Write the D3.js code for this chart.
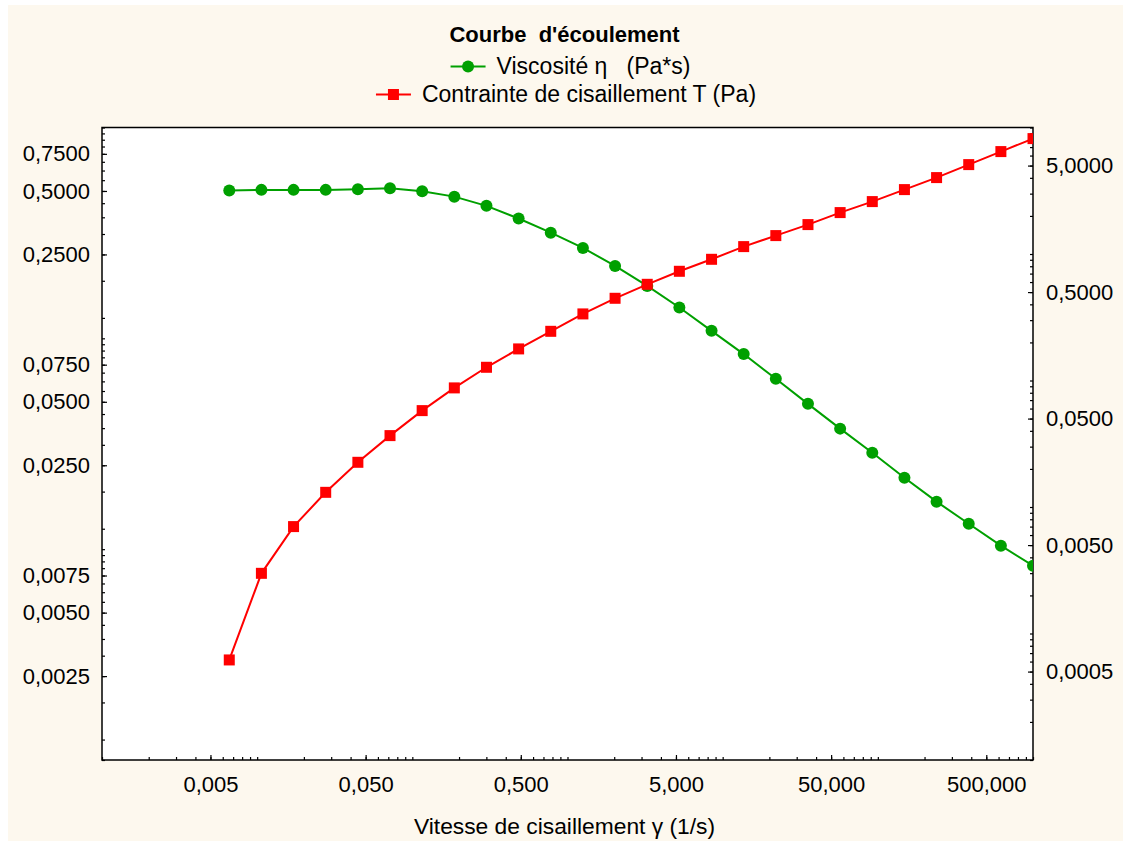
<!DOCTYPE html>
<html>
<head>
<meta charset="utf-8">
<script src="https://cdn.jsdelivr.net/npm/d3@7"></script>
<style>
  body { margin: 0; background: #ffffff; }
  text { font-family: "Liberation Sans", Arial, sans-serif; fill: #000; }
</style>
</head>
<body>
<div id="chart"></div>
<script>
// Vitesse de cisaillement (1/s)
const vitesse = [0.00661, 0.01065, 0.01716, 0.02765, 0.04457, 0.0718, 0.1157, 0.1865, 0.3005, 0.4842,
    0.780, 1.257, 2.026, 3.265, 5.26, 8.48, 13.66, 22.01, 35.46, 57.15,
    92.1, 148.4, 239.1, 385.3, 620.9, 1000];
// Viscosité (Pa*s) - axe gauche
const viscosite = [0.502, 0.506, 0.506, 0.506, 0.510, 0.515, 0.498, 0.470, 0.425, 0.370,
    0.317, 0.2685, 0.2206, 0.1773, 0.140, 0.1085, 0.0842, 0.0643, 0.0489, 0.0373,
    0.02867, 0.02182, 0.0168, 0.0132, 0.01039, 0.00835];
// Contrainte de cisaillement (Pa) - axe droit
const contrainte = [0.000618, 0.00299, 0.0070, 0.01306, 0.02256, 0.03667, 0.0578, 0.0874, 0.1272, 0.1777,
    0.2448, 0.336, 0.4466, 0.576, 0.730, 0.908, 1.144, 1.398, 1.708, 2.125,
    2.596, 3.229, 4.018, 5.09, 6.45, 8.17];

// Étiquettes des axes
const xLabels = [0.005, 0.05, 0.5, 5, 50, 500];
const leftLabels = [0.0025, 0.005, 0.0075, 0.025, 0.05, 0.075, 0.25, 0.5, 0.75];
const rightLabels = [0.0005, 0.005, 0.05, 0.5, 5];
// graduations secondaires de l'axe gauche (fractions de chaque décade)
const leftMinorSteps = [0.1, 0.125, 0.1875, 0.25, 0.3125, 0.375, 0.4375, 0.5, 0.5625, 0.625, 0.6875, 0.75, 0.8125, 0.875, 0.9375];

const W = 1123, H = 841;
const mLeft = 102, mRight = 1033, mTop = 127.5, mBottom = 760;
const vert = "#00a000", rouge = "#ff0000";

const svg = d3.select("#chart").append("svg")
    .attr("width", W).attr("height", H);

// fond crème
svg.append("rect").attr("x", 8).attr("y", 5).attr("width", W - 8).attr("height", H - 5).attr("fill", "#fdf8ee");
svg.append("rect").attr("x", mLeft).attr("y", mTop).attr("width", mRight - mLeft).attr("height", mBottom - mTop).attr("fill", "#fff");

const x = d3.scaleLog().domain([0.001, 1000]).range([mLeft, mRight]);
const yL = d3.scaleLog().domain([0.001, 1]).range([mBottom, mTop]);
const yR = d3.scaleLog().domain([0.0001, 10]).range([mBottom, mTop]);

const fr = d => d3.format(".4f")(d).replace(".", ",");
const fr3 = d => d3.format(".3f")(d).replace(".", ",");

// graduations gauche
const leftMinor = [1];
[0.01, 0.1, 1].forEach(dec => leftMinorSteps.forEach(s => leftMinor.push(+(s * dec).toPrecision(6))));

function styleAxis(g) {
    g.select(".domain").remove();
    g.selectAll("line").attr("stroke", "#000").attr("stroke-width", 1.2);
    g.selectAll("text").attr("font-size", 22).attr("font-family", '"Liberation Sans", Arial, sans-serif');
}

svg.append("g").attr("transform", `translate(${mLeft},0)`)
    .call(d3.axisLeft(yL).tickValues(leftMinor).tickSize(-3).tickFormat(""))
    .call(styleAxis);
svg.append("g").attr("transform", `translate(${mLeft},0)`)
    .call(d3.axisLeft(yL).tickValues(leftLabels).tickSize(-5).tickPadding(12).tickFormat(fr))
    .call(styleAxis);

// graduations droite
svg.append("g").attr("transform", `translate(${mRight},0)`)
    .call(d3.axisRight(yR).tickValues(yR.ticks()).tickSize(-3).tickFormat(""))
    .call(styleAxis);
svg.append("g").attr("transform", `translate(${mRight},0)`)
    .call(d3.axisRight(yR).tickValues(rightLabels).tickSize(-5).tickPadding(13).tickFormat(fr))
    .call(styleAxis);

// graduations bas
svg.append("g").attr("transform", `translate(0,${mBottom})`)
    .call(d3.axisBottom(x).tickValues(x.ticks()).tickSize(-3).tickFormat(""))
    .call(styleAxis);
svg.append("g").attr("transform", `translate(0,${mBottom})`)
    .call(d3.axisBottom(x).tickValues(xLabels).tickSize(-5).tickPadding(16).tickFormat(fr3))
    .call(styleAxis);

// cadre
svg.append("rect").attr("x", mLeft).attr("y", mTop).attr("width", mRight - mLeft).attr("height", mBottom - mTop)
    .attr("fill", "none").attr("stroke", "#000").attr("stroke-width", 1.5);

// zone de tracé
svg.append("clipPath").attr("id", "clip").append("rect")
    .attr("x", mLeft).attr("y", mTop).attr("width", mRight - mLeft).attr("height", mBottom - mTop);
const plot = svg.append("g").attr("clip-path", "url(#clip)");

const ptsV = vitesse.map((v, i) => [v, viscosite[i]]);
const ptsC = vitesse.map((v, i) => [v, contrainte[i]]);

plot.append("path").datum(ptsV)
    .attr("fill", "none").attr("stroke", vert).attr("stroke-width", 2)
    .attr("d", d3.line().x(d => x(d[0])).y(d => yL(d[1])));
plot.selectAll("circle.v").data(ptsV).join("circle")
    .attr("cx", d => x(d[0])).attr("cy", d => yL(d[1])).attr("r", 6).attr("fill", vert);

plot.append("path").datum(ptsC)
    .attr("fill", "none").attr("stroke", rouge).attr("stroke-width", 2)
    .attr("d", d3.line().x(d => x(d[0])).y(d => yR(d[1])));
plot.selectAll("rect.c").data(ptsC).join("rect")
    .attr("x", d => x(d[0]) - 5.5).attr("y", d => yR(d[1]) - 5.5)
    .attr("width", 11).attr("height", 11).attr("fill", rouge);

// titre
const cx = (mLeft + mRight) / 2 - 3;
svg.append("text").attr("x", cx).attr("y", 42).attr("text-anchor", "middle")
    .attr("font-size", 22).attr("font-weight", "bold").style("white-space", "pre")
    .text("Courbe  d'écoulement");

// légende
function legendItem(yy, label, color, kind, shift) {
    const g = svg.append("g");
    const t = g.append("text").attr("y", yy + 7.5).attr("font-size", 23).style("white-space", "pre").text(label);
    const tw = t.node().getComputedTextLength();
    const total = 46 + tw;
    const x0 = cx + shift - total / 2;
    t.attr("x", x0 + 46);
    g.append("line").attr("x1", x0).attr("x2", x0 + 35).attr("y1", yy).attr("y2", yy)
        .attr("stroke", color).attr("stroke-width", 2);
    if (kind === "circle") {
        g.append("circle").attr("cx", x0 + 17.5).attr("cy", yy).attr("r", 6).attr("fill", color);
    } else {
        g.append("rect").attr("x", x0 + 12).attr("y", yy - 5.5).attr("width", 11).attr("height", 11).attr("fill", color);
    }
}
legendItem(66.5, "Viscosité η   (Pa*s)", vert, "circle", 6);
legendItem(94.5, "Contrainte de cisaillement T (Pa)", rouge, "square", 1.5);

// titre de l'axe X
svg.append("text").attr("x", cx).attr("y", 834).attr("text-anchor", "middle")
    .attr("font-size", 22.8).text("Vitesse de cisaillement γ (1/s)");
</script>
</body>
</html>
